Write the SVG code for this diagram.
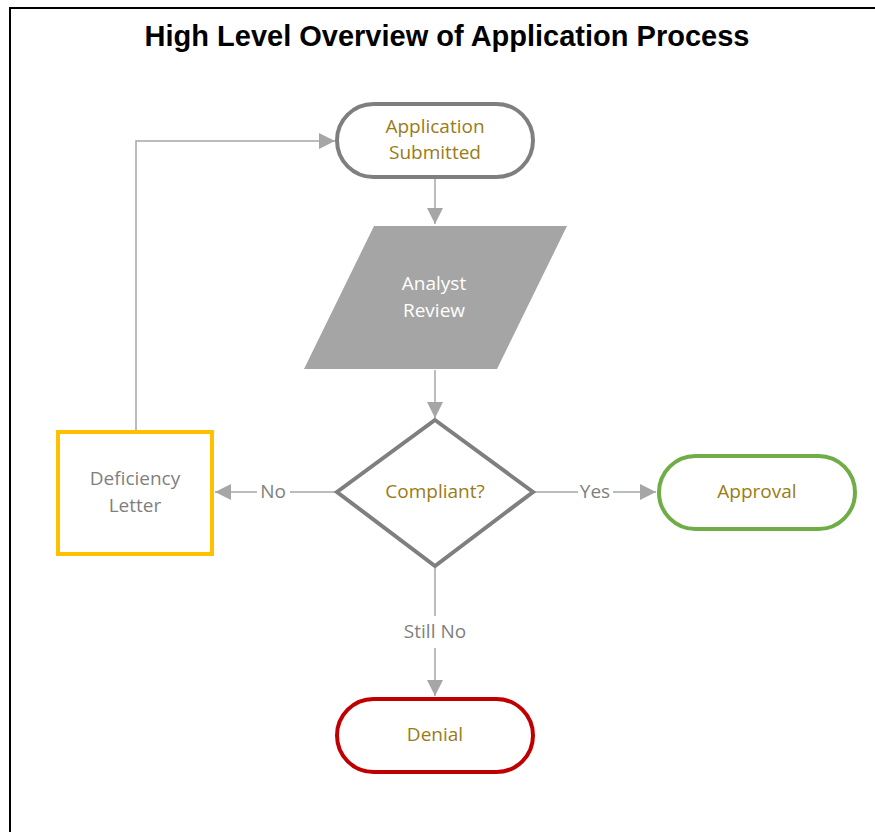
<svg xmlns="http://www.w3.org/2000/svg" width="875" height="832" viewBox="0 0 875 832">
<style>
.conn{fill:none;stroke:#a6a6a6;stroke-width:1.5}
.lbl{font-family:"Open Sans","Noto Sans",sans-serif;font-size:19px;fill:#7f7f7f;text-anchor:middle}
.nt{font-family:"Open Sans","Noto Sans",sans-serif;font-size:19px;text-anchor:middle}
.gold{fill:#9a7b16}
</style>
<defs>
<marker id="ah" viewBox="0 0 10 10" refX="10" refY="5" markerWidth="16" markerHeight="16" markerUnits="userSpaceOnUse" orient="auto">
<path d="M0,0 L10,5 L0,10 z" fill="#a6a6a6"/>
</marker>
</defs>
<rect width="875" height="832" fill="#ffffff"/>
<path d="M10,832 V8 H875" fill="none" stroke="#000" stroke-width="2"/>
<text x="447" y="46" font-family="Liberation Sans,Arial,sans-serif" font-weight="bold" font-size="29" text-anchor="middle" fill="#000">High Level Overview of Application Process</text>

<g id="connectors">
<path class="conn" d="M435,179 V224" marker-end="url(#ah)"/>
<path class="conn" d="M435,370 V418" marker-end="url(#ah)"/>
<path class="conn" d="M336,492 H290 M257,492 H215" marker-end="url(#ah)"/>
<text class="lbl" x="273" y="498">No</text>
<path class="conn" d="M534,492 H578 M613,492 H656" marker-end="url(#ah)"/>
<text class="lbl" x="595" y="498">Yes</text>
<path class="conn" d="M435,568 V616 M435,648 V696" marker-end="url(#ah)"/>
<text class="lbl" x="435" y="638">Still No</text>
<path class="conn" d="M136,430 V141 H335" marker-end="url(#ah)"/>
</g>

<g id="app-submitted">
<rect x="337" y="104" width="196" height="73" rx="36.5" fill="#fff" stroke="#7f7f7f" stroke-width="4"/>
<text class="nt gold" x="435" y="133">Application</text>
<text class="nt gold" x="435" y="159">Submitted</text>
</g>

<g id="analyst-review">
<polygon points="374,226 567,226 497,369 304,369" fill="#a5a5a5"/>
<text class="nt" x="434" y="290" fill="#fff">Analyst</text>
<text class="nt" x="434" y="317" fill="#fff">Review</text>
</g>

<g id="compliant">
<polygon points="435,420 533,492 435,566 337,492" fill="#fff" stroke="#7f7f7f" stroke-width="4"/>
<text class="nt gold" x="435" y="498">Compliant?</text>
</g>

<g id="deficiency">
<rect x="58" y="432" width="154" height="122" fill="#fff" stroke="#ffc000" stroke-width="4"/>
<text class="nt" x="135" y="485" fill="#7f7f7f">Deficiency</text>
<text class="nt" x="135" y="512" fill="#7f7f7f">Letter</text>
</g>

<g id="approval">
<rect x="659" y="456" width="196" height="73" rx="36.5" fill="#fff" stroke="#70ad47" stroke-width="4"/>
<text class="nt gold" x="757" y="498">Approval</text>
</g>

<g id="denial">
<rect x="337" y="699" width="196" height="73" rx="36.5" fill="#fff" stroke="#c00000" stroke-width="4"/>
<text class="nt gold" x="435" y="741">Denial</text>
</g>
</svg>
